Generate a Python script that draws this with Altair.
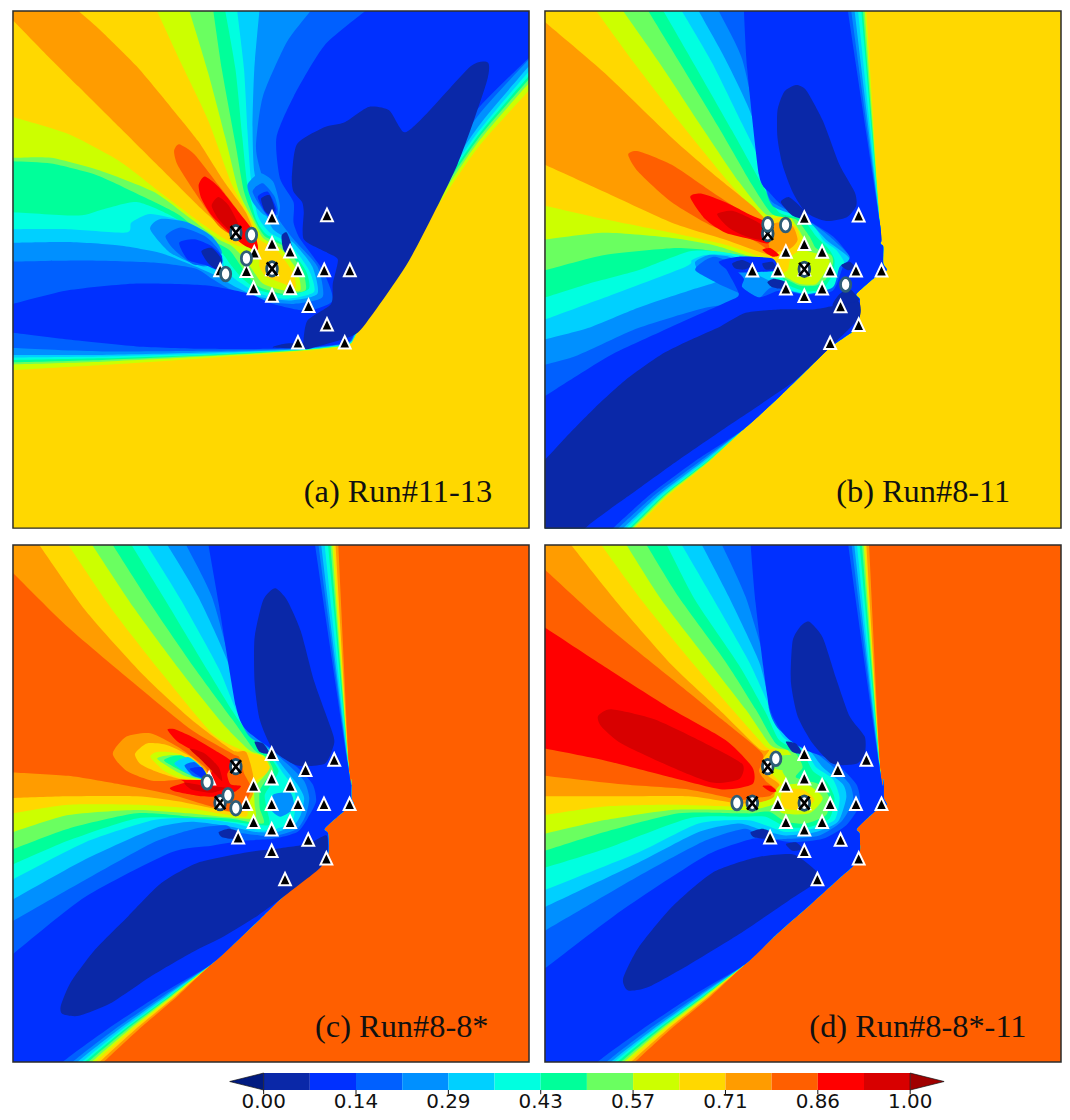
import altair as alt
import pandas as pd

W, H = 518, 519
COLORS = ["#0a28a8", "#0030ff", "#0060ff", "#0090ff", "#00d0ff", "#00ffe0", "#00ff9a",
          "#6aff60", "#ccff00", "#ffd800", "#ff9c00", "#ff5f00", "#ff0000", "#d80000"]
LEVELS = list(range(14))
TICKS = [0, 2/14, 4/14, 6/14, 8/14, 10/14, 12/14, 1]
TICK_TEXT = ["0.00", "0.14", "0.29", "0.43", "0.57", "0.71", "0.86", "1.00"]
BOUNDS = {"a": (38, 1550, 28, 1550), "b": (22, 1560, 28, 1548),
          "c": (38, 1548, 28, 1545), "d": (22, 1560, 28, 1545)}

# ---------- Panel a ----------
A_REGIONS = [
 (8, [(420,-60),(460,28),(530,180),(610,350),(680,540),(735,640),(760,700),(810,730),(860,800),(865,845),(830,830),(780,810),(760,780),(760,745),(740,720),(700,720),(660,700),(600,660),(480,570),(350,470),(200,390),(38,340),(-60,310),(-60,1091),(38,1085),(300,1070),(600,1050),(870,1030),(1015,1015),(1040,985),(1110,860),(1250,650),(1400,430),(1550,262),(1640,161),(1640,-60)]),
 (7, [(528,-60),(555,28),(610,210),(660,400),(700,560),(740,640),(770,695),(820,725),(870,790),(880,850),(830,850),(770,830),(740,790),(720,760),(680,720),(640,700),(560,640),(450,560),(300,500),(150,460),(38,460),(-60,460),(-60,1072),(38,1068),(300,1060),(600,1045),(870,1028),(1015,1012),(1040,985),(1110,855),(1245,645),(1400,415),(1550,240),(1640,135),(1640,-60)]),
 (6, [(612,-60),(625,28),(650,200),(690,420),(715,560),(745,640),(775,690),(830,720),(885,790),(895,850),(830,860),(760,840),(720,800),(700,770),(670,730),(600,690),(520,625),(400,565),(280,510),(150,477),(38,470),(-60,464),(-60,1066),(38,1062),(300,1055),(600,1042),(870,1027),(1015,1010),(1040,985),(1110,852),(1240,640),(1400,405),(1550,228),(1640,122),(1640,-60)]),
 (5, [(645,-60),(660,28),(690,200),(710,400),(725,540),(750,640),(780,685),(840,720),(895,790),(905,845),(840,865),(760,850),(710,815),(680,780),(650,740),(600,700),(500,630),(400,590),(300,612),(230,630),(38,620),(-60,615),(-60,1058),(38,1055),(300,1050),(600,1040),(870,1026),(1015,1010),(1040,985),(1110,850),(1238,635),(1400,395),(1550,218),(1640,116),(1640,-60)]),
 (4, [(685,-60),(695,28),(715,200),(725,380),(735,520),(755,630),(790,680),(850,715),(905,790),(920,855),(840,875),(760,860),(700,825),(660,790),(650,745),(620,700),(530,645),(440,625),(385,650),(370,680),(200,670),(38,670),(-60,670),(-60,1051),(38,1048),(300,1045),(600,1037),(870,1025),(1015,1008),(1040,982),(1110,848),(1235,630),(1400,385),(1550,205),(1640,97),(1640,-60)]),
 (3, [(768,-60),(760,28),(745,200),(740,370),(745,500),(770,600),(800,670),(860,710),(915,780),(930,860),(850,880),(760,870),(690,840),(640,810),(560,775),(470,740),(350,718),(200,708),(38,710),(-60,711),(-60,1040),(38,1040),(300,1040),(600,1033),(870,1024),(1015,1007),(1040,980),(1110,846),(1232,625),(1400,370),(1550,190),(1640,82),(1640,-60)]),
 (2, [(977,-60),(910,28),(840,120),(770,280),(750,430),(770,520),(810,630),(860,700),(930,780),(945,870),(860,890),(760,880),(680,850),(620,815),(570,785),(450,768),(250,762),(38,765),(-60,766),(-60,1010),(38,1020),(300,1030),(600,1028),(870,1022),(1015,1006),(1040,978),(1110,844),(1230,615),(1390,350),(1550,170),(1640,68),(1640,-60)]),
 (1, [(1174,-60),(1070,28),(950,130),(860,280),(810,400),(820,520),(860,590),(860,650),(880,700),(945,790),(975,880),(900,910),(800,890),(730,860),(600,835),(400,830),(200,850),(38,890),(-60,914),(-60,965),(38,975),(200,995),(400,1015),(600,1022),(800,1022),(930,1015),(1015,1005),(1040,975),(1110,842),(1230,610),(1380,340),(1550,165),(1640,72),(1640,-60)]),
 (0, [(855,520),(870,420),(950,370),(1010,355),(1080,310),(1140,320),(1185,385),(1250,330),(1380,190),(1430,180),(1425,240),(1340,480),(1200,760),(1070,950),(1030,985),(930,1015),(890,1020),(900,940),(970,890),(975,830),(990,760),(960,740),(890,700),(890,620),(885,590),(860,560)]),
 (0, [(800,1018),(830,1008),(890,1005),(890,1020)]),
 (3, [(725,540),(760,505),(800,530),(820,600),(810,640),(770,625),(740,590)]),
 (2, [(740,560),(770,535),(805,575),(815,625),(780,625)]),
 (1, [(755,575),(785,560),(810,610),(800,640),(780,625)]),
 (0, [(765,580),(790,570),(805,610),(795,630),(775,615)]),
 (0, [(825,690),(840,680),(855,720),(850,755),(830,730)]),
 (3, [(440,670),(470,640),(550,650),(620,690),(650,740),(600,780),(500,740)]),
 (2, [(485,690),(530,665),(600,690),(640,730),(650,770),(570,775),(510,730)]),
 (1, [(525,710),(570,700),(620,720),(650,750),(640,790),(600,775),(550,760)]),
 (0, [(590,735),(620,725),(650,760),(640,790),(610,770)]),
 (10, [(-60,-47),(38,55),(120,140),(230,250),(350,370),(470,490),(590,610),(680,690),(725,710),(750,700),(720,620),(650,520),(580,410),(500,310),(400,190),(300,90),(230,28),(130,-60),(-60,-60)]),
 (11, [(510,440),(525,420),(570,450),(640,540),(700,620),(745,690),(755,730),(700,700),(640,660),(570,560),(520,480)]),
 (12, [(582,540),(600,515),(640,545),(700,620),(745,680),(755,730),(720,720),(680,690),(620,630),(590,580)]),
 (13, [(620,600),(640,575),(670,600),(700,660),(680,680),(640,640)]),
]
A_TRI = [(797,635),(958,628),(797,712),(850,735),(745,738),(645,790),(722,792),(797,787),(873,790),(950,790),(1025,790),(743,843),(850,843),(797,865),(904,895),(958,950),(873,1003),(1010,1003)]
A_CIRC = [(737,687),(722,756),(661,802)]
A_CROSS = [(691,680),(797,787)]

# ---------- Panel b ----------
B_S = [(613,1258),(712,1170),(790,1095),(869,1019),(945,965),(960,925),(960,875),(950,860),(1000,815),(1040,790),(1030,770),(1030,720),(1022,710),(1020,650)]
# where each band meets the bottom edge and the rows y=1450, y=1350
B_FOOT = {8:(289,392,515), 7:(284,386,513), 6:(279,381,510), 5:(274,377,507), 4:(264,369,502), 3:(255,362,495), 2:(240,350,486), 1:(225,335,471)}
def b_tail(k):
    xb, xl, xm = B_FOOT[k]
    return [(-60,1640),(xb-100,1640),(xb,1548),(xl,1450),(xm,1350)] + B_S
B_REGIONS = [
 (8, [(110,-60),(175,28),(280,170),(420,350),(560,520),(670,635),(730,635),(775,670),(785,725),(755,750),(745,790),(715,800),(690,755),(650,745),(560,715),(400,680),(200,640),(22,600),(-60,582)] + b_tail(8) + [(980,28),(974,-60)]),
 (7, [(192,-60),(255,28),(370,190),(490,370),(600,530),(680,625),(745,625),(790,690),(800,730),(830,740),(870,760),(860,790),(830,830),(780,830),(740,810),(710,790),(680,760),(620,745),(520,715),(400,695),(200,680),(22,700),(-60,709)] + b_tail(7) + [(975,28),(969,-60)]),
 (6, [(276,-60),(330,28),(430,190),(540,370),(640,540),(700,625),(770,640),(810,690),(830,725),(875,745),(880,770),(860,815),(830,835),(780,835),(730,810),(700,790),(670,760),(600,745),(500,730),(400,725),(200,745),(22,790),(-60,811)] + b_tail(6) + [(970,28),(964,-60)]),
 (5, [(323,-60),(375,28),(470,190),(580,380),(670,540),(720,620),(790,640),(830,690),(870,730),(885,760),(880,800),(850,845),(800,852),(750,835),(720,800),(690,780),(620,750),(540,735),(450,735),(300,790),(150,830),(22,870),(-60,896)] + b_tail(5) + [(965,28),(959,-60)]),
 (4, [(378,-60),(430,28),(520,180),(610,360),(680,500),(730,610),(810,640),(850,700),(890,730),(915,770),(900,810),(870,850),(800,858),(745,845),(700,810),(690,785),(640,770),(570,745),(500,745),(460,760),(440,780),(200,870),(22,935),(-60,965)] + b_tail(4) + [(955,28),(949,-60)]),
 (3, [(430,-60),(480,28),(560,170),(640,340),(670,510),(700,600),(800,640),(860,700),(920,745),(940,775),(905,800),(880,850),(800,860),(750,850),(690,820),(650,800),(600,770),(570,750),(510,745),(470,765),(480,790),(540,820),(450,850),(300,900),(150,960),(22,994),(-60,1020)] + b_tail(3) + [(945,28),(939,-60)]),
 (2, [(497,-60),(540,28),(610,170),(660,400),(680,540),(700,590),(800,640),(870,690),(935,755),(900,780),(880,840),(800,860),(700,840),(660,870),(610,840),(600,800),(580,770),(530,750),(500,760),(470,790),(540,830),(640,880),(500,900),(300,960),(120,1040),(22,1068),(-60,1095)] + b_tail(2) + [(935,28),(929,-60)]),
 (1, [(610,-60),(615,28),(625,200),(660,510),(690,560),(730,600),(800,640),(880,690),(930,750),(910,780),(880,850),(800,862),(720,850),(660,870),(610,840),(615,815),(590,790),(560,780),(600,860),(560,885),(368,970),(220,1038),(122,1097),(22,1160),(-60,1215)] + b_tail(1) + [(925,28),(920,-60)]),
 (0, [(-60,1435),(24,1345),(83,1282),(171,1194),(269,1107),(368,1038),(466,990),(545,955),(620,915),(720,905),(820,905),(880,895),(955,880),(958,930),(869,1019),(771,1111),(663,1185),(545,1263),(417,1350),(279,1448),(151,1540),(50,1640),(-60,1640)]),
 (0, [(770,245),(800,260),(850,350),(900,480),(945,560),(950,600),(920,635),(860,645),(800,620),(760,560),(730,480),(715,400),(715,320),(735,265)]),
 (1, [(540,765),(600,750),(700,755),(715,790),(660,795),(580,795)]),
 (0, [(725,590),(750,575),(790,610),(800,640),(760,630)]),
 (0, [(580,770),(610,760),(640,775),(615,788),(590,785)]),
 (0, [(670,770),(700,765),(710,785),(680,788)]),
 (0, [(685,825),(705,815),(740,825),(735,845),(700,840)]),
 (0, [(905,775),(930,765),(945,780),(925,790)]),
 (0, [(900,860),(930,845),(955,870),(955,880),(880,895)]),
 (10, [(-60,-9),(22,60),(200,210),(400,400),(540,520),(640,600),(690,650),(720,650),(760,660),(775,700),(755,725),(720,735),(690,745),(560,700),(400,650),(200,560),(22,480),(-60,443)]),
 (11, [(270,450),(300,440),(400,480),(520,560),(640,640),(680,690),(690,730),(640,700),(520,660),(400,590),(300,500)]),
 (12, [(455,575),(490,565),(560,590),(640,630),(680,650),(690,710),(640,700),(560,680),(500,640)]),
 (13, [(535,625),(580,615),(640,640),(670,660),(670,700),(620,690),(570,665)]),
 (12, [(670,730),(695,725),(720,745),(700,750)]),
]
B_TRI = [(795,635),(957,628),(795,712),(848,735),(740,735),(640,790),(716,790),(795,787),(872,790),(949,790),(1025,790),(740,843),(848,843),(795,865),(903,895),(957,950),(872,1003)]
B_CIRC = [(686,655),(739,657),(918,832)]
B_CROSS = [(686,682),(795,787)]

# ---------- Panel c ----------
C_S = [(618,1258),(714,1170),(772,1114),(830,1058),(885,1014),(940,970),(960,935),(960,875),(950,860),(1005,810),(1035,790),(1028,770),(1028,715),(1022,700)]
C_FOOT = {10:(303,405,521), 9:(291,395,515), 8:(279,386,510), 7:(268,378,505), 6:(258,370,501), 5:(248,363,497), 4:(239,356,493), 3:(226,346,486), 2:(212,334,478), 1:(183,312,463)}
def c_tail(k):
    xb, xl, xm = C_FOOT[k]
    return [(-60,1640),(xb-100,1640),(xb,1545),(xl,1450),(xm,1350)] + C_S
C_REGIONS = [
 (10, [(-60,13),(38,110),(200,270),(400,440),(560,570),(680,640),(700,650),(715,700),(735,740),(720,780),(680,810),(600,790),(500,760),(350,730),(200,705),(38,695),(-60,689)] + c_tail(10) + [(990,28),(986,-60),(-60,-60)]),
 (9, [(53,-60),(115,28),(250,220),(420,410),(560,540),(680,630),(720,635),(740,700),(740,760),(730,790),(700,815),(620,800),(520,780),(400,765),(200,765),(38,770),(-60,773)] + c_tail(9) + [(982,28),(978,-60)]),
 (8, [(140,-60),(200,28),(330,220),(470,400),(620,580),(710,630),(770,650),(790,690),(750,720),(740,760),(725,790),(720,825),(640,815),(550,800),(400,790),(200,790),(38,815),(-60,830)] + c_tail(8) + [(977,28),(973,-60)]),
 (7, [(212,-60),(270,28),(390,210),(530,400),(650,550),(730,630),(770,645),(790,680),(770,710),(745,740),(745,790),(745,830),(650,825),(550,815),(400,805),(200,820),(38,870),(-60,900)] + c_tail(7) + [(972,28),(968,-60)]),
 (6, [(274,-60),(330,28),(440,200),(570,390),(680,540),(745,630),(780,650),(800,690),(780,715),(760,750),(760,800),(770,845),(670,830),(560,825),(400,815),(200,860),(38,920),(-60,956)] + c_tail(6) + [(967,28),(963,-60)]),
 (5, [(331,-60),(385,28),(490,200),(610,400),(690,530),(760,620),(790,650),(815,690),(800,720),(775,760),(780,800),(785,850),(680,840),(570,830),(400,830),(200,895),(38,965),(-60,1007)] + c_tail(5) + [(960,28),(956,-60)]),
 (4, [(375,-60),(430,28),(530,190),(640,390),(700,530),(780,620),(805,660),(830,700),(860,740),(865,790),(855,840),(810,860),(760,865),(690,845),(580,830),(450,835),(250,900),(38,1009),(-60,1061)] + c_tail(4) + [(950,28),(946,-60)]),
 (3, [(438,-60),(490,28),(580,180),(670,380),(700,530),(730,590),(790,630),(830,680),(870,730),(890,770),(880,820),(860,850),(810,870),(750,870),(680,855),(560,840),(450,860),(250,950),(38,1068),(-60,1125)] + c_tail(3) + [(940,28),(936,-60)]),
 (2, [(502,-60),(545,28),(620,180),(680,400),(700,520),(745,590),(790,625),(840,670),(890,720),(905,770),(895,820),(870,860),(810,880),(760,880),(690,870),(660,850),(570,860),(450,900),(250,1010),(38,1131),(-60,1190)] + c_tail(2) + [(932,28),(928,-60)]),
 (1, [(595,-60),(610,28),(640,200),(690,500),(720,570),(800,630),(870,680),(915,730),(925,780),(900,830),(870,870),(800,890),(720,895),(620,910),(500,930),(250,1060),(38,1228),(-60,1309)] + c_tail(1) + [(922,28),(918,-60)]),
 (0, [(178,1380),(207,1311),(279,1214),(376,1116),(473,1019),(579,960),(720,930),(800,920),(900,905),(955,880),(958,930),(937,975),(840,1052),(753,1116),(657,1175),(560,1224),(444,1292),(328,1370),(231,1409),(183,1404)]),
 (0, [(805,155),(840,190),(880,280),(920,430),(975,585),(975,620),(950,670),(870,675),(800,630),(760,540),(745,430),(745,300),(770,190)]),
 (0, [(745,605),(770,610),(790,640),(760,635)]),
 (0, [(640,870),(670,860),(700,870),(690,890),(650,885)]),
 (3, [(800,760),(850,755),(860,800),(820,825),(790,800)]),
 (12, [(490,570),(510,568),(560,590),(620,625),(680,665),(665,700),(675,730),(705,735),(690,750),(650,765),(590,765),(510,750),(498,740),(540,725),(530,715),(605,715),(620,680),(580,640),(520,605)]),
 (13, [(555,625),(600,640),(640,680),(650,720),(620,690),(580,650)]),
 (13, [(540,725),(600,735),(660,740),(620,755),(560,745)]),
 (10, [(330,640),(370,590),(440,580),(520,620),(600,680),(610,715),(540,715),(450,720),(370,690)]),
 (9, [(395,640),(430,610),(490,615),(560,650),(610,700),(600,715),(530,715),(450,690),(410,670)]),
 (8, [(440,650),(460,635),(520,640),(600,690),(600,715),(530,712),(480,690)]),
 (7, [(460,655),(520,645),(590,685),(600,715),(540,705)]),
 (6, [(480,660),(530,645),(590,685),(600,715),(550,700)]),
 (4, [(510,670),(550,650),(590,680),(600,715),(560,705)]),
 (2, [(540,675),(570,665),(600,695),(600,712),(565,705)]),
 (1, [(555,685),(590,680),(605,705),(590,710)]),
]
C_TRI = [(795,640),(978,657),(894,687),(795,712),(849,733),(742,733),(612,712),(720,787),(795,787),(872,787),(948,787),(1023,787),(742,840),(849,840),(795,862),(697,885),(902,892),(795,925),(955,947),(834,1008)]
C_CIRC = [(606,724),(667,762),(690,800)]
C_CROSS = [(690,678),(644,784)]

# ---------- Panel d ----------
D_S = [(618,1258),(712,1170),(785,1107),(855,1045),(900,1005),(940,970),(960,935),(960,875),(952,860),(1005,810),(1040,790),(1032,770),(1032,715),(1022,700)]
D_FOOT = {10:(290,395,518), 9:(278,386,512), 8:(267,378,507), 7:(257,370,502), 6:(248,363,498), 5:(238,356,494), 4:(228,350,490), 3:(218,342,484), 2:(205,330,476), 1:(178,310,462)}
def d_tail(k):
    xb, xl, xm = D_FOOT[k]
    return [(-60,1640),(xb-100,1640),(xb,1545),(xl,1450),(xm,1350)] + D_S
D_REGIONS = [
 (10, [(-60,26),(22,100),(200,260),(400,420),(550,540),(670,640),(660,690),(680,720),(710,745),(690,765),(640,770),(600,775),(450,745),(250,730),(22,705),(-60,696)] + d_tail(10) + [(988,28),(984,-60),(-60,-60)]),
 (9, [(29,-60),(100,28),(240,200),(400,380),(540,510),(660,625),(690,630),(670,660),(680,700),(720,730),(710,765),(680,780),(640,785),(590,785),(450,765),(250,765),(22,765),(-60,765)] + d_tail(9) + [(980,28),(976,-60)]),
 (8, [(125,-60),(190,28),(310,190),(450,360),(580,510),(680,620),(710,630),(690,660),(700,700),(730,735),(700,770),(640,790),(590,795),(400,790),(200,795),(22,820),(-60,832)] + d_tail(8) + [(976,28),(972,-60)]),
 (7, [(208,-60),(265,28),(370,190),(510,370),(620,510),(695,615),(745,630),(760,660),(730,690),(745,720),(720,760),(700,790),(640,805),(590,805),(400,805),(200,835),(22,875),(-60,893)] + d_tail(7) + [(972,28),(968,-60)]),
 (6, [(270,-60),(325,28),(420,180),(560,370),(650,510),(710,610),(770,640),(790,680),(770,710),(840,730),(870,770),(860,820),(800,845),(740,840),(690,810),(640,815),(600,815),(420,815),(200,870),(22,925),(-60,950)] + d_tail(6) + [(967,28),(963,-60)]),
 (5, [(339,-60),(385,28),(470,190),(600,380),(680,520),(720,600),(790,640),(820,690),(860,720),(885,770),(870,830),(810,855),(740,855),(680,825),(610,825),(450,830),(200,920),(22,975),(-60,1000)] + d_tail(5) + [(960,28),(956,-60)]),
 (4, [(378,-60),(430,28),(520,180),(630,370),(690,500),(730,590),(800,635),(830,680),(880,715),(900,770),(885,835),(820,860),(740,870),(680,850),(620,835),(480,845),(300,930),(22,1040),(-60,1072)] + d_tail(4) + [(952,28),(948,-60)]),
 (3, [(443,-60),(490,28),(570,180),(660,370),(695,500),(735,580),(810,630),(850,680),(910,730),(920,770),(895,840),(830,870),(740,880),(670,865),(600,845),(480,870),(300,960),(22,1090),(-60,1128)] + d_tail(3) + [(944,28),(940,-60)]),
 (2, [(510,-60),(550,28),(620,180),(680,380),(690,510),(720,570),(810,625),(870,670),(930,730),(940,780),(905,840),(840,880),(750,890),(670,890),(620,860),(500,895),(300,1000),(22,1160),(-60,1207)] + d_tail(2) + [(936,28),(932,-60)]),
 (1, [(627,-60),(635,28),(650,200),(690,500),(740,590),(800,630),(880,660),(950,730),(960,790),(920,850),(850,890),(760,900),(690,890),(640,890),(500,940),(250,1100),(22,1270),(-60,1331)] + d_tail(1) + [(926,28),(922,-60)]),
 (0, [(255,1300),(300,1210),(400,1090),(520,990),(650,945),(760,935),(820,975),(840,1010),(750,1070),(600,1170),(450,1260),(330,1325),(270,1335)]),
 (0, [(810,253),(850,300),(890,420),(930,530),(975,590),(975,640),(950,670),(880,670),(820,610),(775,530),(755,430),(760,310),(785,265)]),
 (0, [(740,605),(770,610),(790,640),(760,635)]),
 (0, [(635,870),(670,860),(695,870),(690,890),(645,885)]),
 (0, [(740,905),(770,900),(790,920),(760,925)]),
 (8, [(720,735),(800,730),(850,770),(810,815),(730,815),(705,775)]),
 (9, [(735,745),(790,745),(825,775),(790,805),(735,800),(725,770)]),
 (7, [(700,650),(760,645),(780,680),(740,690),(700,680)]),
 (12, [(-60,215),(22,270),(200,385),(400,510),(560,600),(640,680),(640,730),(550,745),(400,710),(200,660),(22,625),(-60,609)]),
 (13, [(180,530),(220,510),(350,540),(500,610),(610,670),(600,715),(520,725),(400,680),(250,610),(190,560)]),
 (12, [(670,735),(695,735),(712,750),(695,752)]),
]
D_TRI = [(795,640),(980,657),(895,687),(795,712),(848,733),(740,733),(716,787),(795,785),(872,787),(949,787),(1025,787),(740,840),(848,840),(795,862),(693,885),(903,892),(795,925),(957,947),(834,1008)]
D_CIRC = [(710,655),(594,785)]
D_CROSS = [(686,678),(640,785),(795,785)]

LABELS = {"a": ("(a) Run#11-13", 890, 1472), "b": ("(b) Run#8-11", 890, 1472),
          "c": ("(c) Run#8-8*", 922, 1470), "d": ("(d) Run#8-8*-11", 810, 1470)}
BACKGROUND = {"a": 9, "b": 9, "c": 11, "d": 11}
PANELS = {"a": (A_REGIONS, A_TRI, A_CIRC, A_CROSS), "b": (B_REGIONS, B_TRI, B_CIRC, B_CROSS),
          "c": (C_REGIONS, C_TRI, C_CIRC, C_CROSS), "d": (D_REGIONS, D_TRI, D_CIRC, D_CROSS)}

TRI_PATH = "M-0.85,0.9 L0,-0.9 L0.85,0.9 Z"
ELL_PATH = "M-0.74,0 A0.74,1 0 1,1 0.74,0 A0.74,1 0 1,1 -0.74,0 Z"
X_PATH = "M-0.72,-0.9 L0.72,0.9 M-0.72,0.9 L0.72,-0.9"
COLOR = alt.Scale(domain=LEVELS, range=COLORS)


def panel(key):
    regions, tri, circ, cross = PANELS[key]
    x0, x1, y0, y1 = BOUNDS[key]
    xs = alt.Scale(domain=[x0, x1], nice=False, zero=False)
    ys = alt.Scale(domain=[y1, y0], nice=False, zero=False)
    X = alt.X("x:Q", scale=xs, axis=None)
    Y = alt.Y("y:Q", scale=ys, axis=None)
    rows = [{"poly": i, "i": j, "x": p[0], "y": p[1], "level": lv}
            for i, (lv, pts) in enumerate(regions) for j, p in enumerate(pts)]
    base = alt.Chart(pd.DataFrame({"level": [BACKGROUND[key]]})).mark_rect().encode(
        x=alt.value(0), x2=alt.value(W), y=alt.value(0), y2=alt.value(H),
        color=alt.Color("level:O", scale=COLOR, legend=None))
    fill = alt.Chart(pd.DataFrame(rows)).mark_line(
        interpolate="cardinal-closed", tension=0.35, clip=True, strokeWidth=0).encode(
        x=X, y=Y, order="i:Q", detail="poly:N",
        fill=alt.Fill("level:O", scale=COLOR, legend=None))
    border = alt.Chart(pd.DataFrame({"level": [0]})).mark_rect(
        filled=False, stroke="#2b2b2b", strokeWidth=1.5).encode(
        x=alt.value(0), x2=alt.value(W), y=alt.value(0), y2=alt.value(H))
    df = lambda L: pd.DataFrame(L, columns=["x", "y"])
    t = alt.Chart(df(tri)).mark_point(shape=TRI_PATH, filled=True, fill="black", stroke="white",
                                      strokeWidth=2, size=196, opacity=1).encode(x=X, y=Y)
    cr = alt.Chart(df(cross)).mark_point(shape=ELL_PATH, filled=True, fill="white", stroke="#24506a",
                                         strokeWidth=2.8, size=210, opacity=1).encode(x=X, y=Y)
    cx = alt.Chart(df(cross)).mark_point(shape=X_PATH, filled=False, stroke="black",
                                         strokeWidth=2.6, size=210, opacity=1).encode(x=X, y=Y)
    ci = alt.Chart(df(circ)).mark_point(shape=ELL_PATH, filled=True, fill="white", stroke="#2e5e78",
                                        strokeWidth=2.8, size=190, opacity=1).encode(x=X, y=Y)
    txt, tx, ty = LABELS[key]
    lab = alt.Chart(pd.DataFrame({"x": [tx], "y": [ty], "t": [txt]})).mark_text(
        font="Liberation Serif", fontSize=32.5, align="left", baseline="alphabetic", color="#111").encode(
        x=X, y=Y, text="t:N")
    return alt.layer(base, fill, t, cr, cx, ci, lab, border).properties(
        width=W, height=H, view=alt.ViewBackground(strokeOpacity=0))


# ---------- Colour bar ----------
BAR_H = 40
BAR_DOMAIN = [-0.3877, 1.2302]
x_scale = alt.Scale(domain=BAR_DOMAIN, nice=False, zero=False)
y_scale = alt.Scale(domain=[-(BAR_H - 17) / 17, 1], nice=False, zero=False)
BX = alt.X("x:Q", scale=x_scale, axis=None)
bins = pd.DataFrame({"x": [i/14 for i in LEVELS], "b": [(i+1)/14 for i in LEVELS],
                     "lo": [0]*14, "hi": [1]*14, "level": LEVELS})
rects = alt.Chart(bins).mark_rect().encode(
    x=BX, x2="b:Q", y=alt.Y("lo:Q", scale=y_scale, axis=None), y2="hi:Q",
    color=alt.Color("level:O", scale=COLOR, legend=None))
left_tip = alt.Chart(pd.DataFrame({"x": [-0.0525, 0], "lo": [0.5, 0], "hi": [0.5, 1]})).mark_area(
    color="#001a80", stroke="#111", strokeWidth=0.7).encode(
    x=BX, y=alt.Y("lo:Q", scale=y_scale, axis=None), y2="hi:Q")
right_tip = alt.Chart(pd.DataFrame({"x": [1, 1.0525], "lo": [0, 0.5], "hi": [1, 0.5]})).mark_area(
    color="#a00000", stroke="#111", strokeWidth=0.7).encode(
    x=BX, y=alt.Y("lo:Q", scale=y_scale, axis=None), y2="hi:Q")
tick_df = pd.DataFrame({"x": TICKS, "t": TICK_TEXT, "lo": [0.0]*8, "hi": [-0.25]*8,
                        "base": [y_scale.domain[0] + 4.5/17]*8})
tick_marks = alt.Chart(tick_df).mark_rule(color="#111", strokeWidth=1).encode(
    x=BX, y=alt.Y("lo:Q", scale=y_scale, axis=None), y2="hi:Q")
tick_text = alt.Chart(tick_df).mark_text(
    font="DejaVu Sans", fontSize=20, color="#111", baseline="alphabetic", align="center").encode(
    x=BX, y=alt.Y("base:Q", scale=y_scale, axis=None), text="t:N")
colorbar = alt.layer(rects, left_tip, right_tip, tick_marks, tick_text).properties(
    width=2*W + 14, height=BAR_H, view=alt.ViewBackground(strokeOpacity=0))

chart = alt.vconcat(
    alt.hconcat(panel("a"), panel("b"), spacing=14),
    alt.hconcat(panel("c"), panel("d"), spacing=14),
    spacing=15,
)
chart = alt.vconcat(chart, colorbar, spacing=8).properties(
    padding={"left": 4, "top": 0, "right": 0, "bottom": 0})
chart.save("out.html", embed_options={"renderer": "svg", "actions": False})
